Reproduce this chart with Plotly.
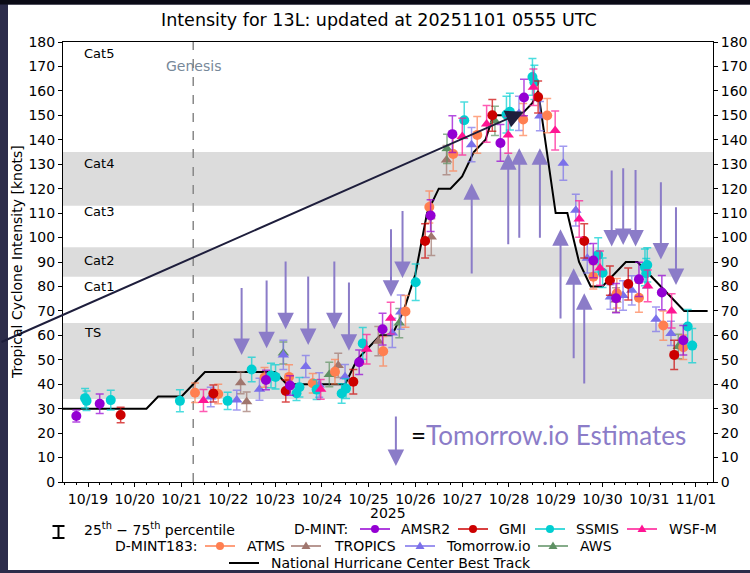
import plotly.graph_objects as go

# ---------------- data ----------------
bt_time = ["2025-10-18 06:00", "2025-10-20 06:00", "2025-10-20 12:00", "2025-10-21 00:00",
           "2025-10-21 06:00", "2025-10-21 12:00", "2025-10-23 00:00", "2025-10-23 06:00",
           "2025-10-24 12:00", "2025-10-24 18:00", "2025-10-25 00:00", "2025-10-25 06:00",
           "2025-10-25 12:00", "2025-10-25 18:00", "2025-10-26 00:00", "2025-10-26 06:00",
           "2025-10-26 12:00", "2025-10-26 18:00", "2025-10-27 00:00", "2025-10-27 06:00",
           "2025-10-27 12:00", "2025-10-27 16:00", "2025-10-28 06:00", "2025-10-28 12:00",
           "2025-10-28 15:00", "2025-10-29 00:00", "2025-10-29 06:00", "2025-10-29 12:00",
           "2025-10-29 18:00", "2025-10-30 00:00", "2025-10-30 12:00", "2025-10-30 18:00",
           "2025-10-31 00:00", "2025-10-31 06:00", "2025-10-31 12:00", "2025-10-31 18:00",
           "2025-11-01 06:00"]
bt_kt = [30, 30, 35, 35, 40, 45, 45, 40, 40, 50, 55, 60, 60, 70, 85, 110, 120, 120, 125, 135,
         140, 150, 150, 155, 160, 110, 110, 90, 80, 80, 90, 90, 85, 80, 75, 70, 70]

amsr2_time = ["2025-10-18 18:00", "2025-10-19 06:00", "2025-10-22 19:20", "2025-10-23 07:40",
              "2025-10-24 19:10", "2025-10-25 07:10", "2025-10-26 07:50", "2025-10-26 19:00",
              "2025-10-27 19:40", "2025-10-28 07:45", "2025-10-29 19:20", "2025-10-30 07:00",
              "2025-10-30 18:45", "2025-10-31 06:30", "2025-10-31 17:30"]
amsr2_kt = [27, 32, 41.7, 39.5, 49, 62.5, 109, 142.3, 138.7, 157.3, 90.6, 75.2, 82.9, 77.5, 58]
amsr2_err = [2.5, 4, 4, 4, 5, 6.5, 6.5, 7.5, 7.5, 7.5, 7, 6, 7, 7, 6]

gmi_time = ["2025-10-19 16:45", "2025-10-21 16:20", "2025-10-23 05:30", "2025-10-24 16:10",
            "2025-10-26 05:00", "2025-10-27 15:30", "2025-10-28 15:00", "2025-10-29 14:40",
            "2025-10-30 03:50", "2025-10-30 13:15", "2025-10-31 12:50"]
gmi_kt = [27.4, 36.2, 37.2, 41, 98.6, 150, 157.5, 98.6, 82.4, 81, 52]
gmi_err = [3.2, 3.5, 4.5, 5, 7, 6.5, 6.5, 7, 6, 6.5, 6]

ssmis_time = ["2025-10-18 22:30", "2025-10-18 23:15", "2025-10-19 11:40", "2025-10-20 23:10",
              "2025-10-21 23:40", "2025-10-22 12:00", "2025-10-22 21:55", "2025-10-23 00:15",
              "2025-10-23 11:00", "2025-10-23 12:30", "2025-10-23 21:20", "2025-10-24 10:10",
              "2025-10-24 12:25", "2025-10-24 21:00", "2025-10-26 00:10", "2025-10-27 01:05",
              "2025-10-27 22:45", "2025-10-28 00:30", "2025-10-28 12:05", "2025-10-28 13:05",
              "2025-10-29 21:50", "2025-10-30 00:05", "2025-10-30 21:50", "2025-10-30 22:30",
              "2025-10-30 23:00", "2025-10-31 19:45", "2025-10-31 22:05"]
ssmis_kt = [34.3, 33.2, 33.5, 33.2, 33.2, 46, 43.6, 43, 36.3, 38.8, 37.8, 36.2, 38.2, 56.7,
            81.7, 148, 150.3, 151.5, 165.7, 163.5, 92.9, 85.6, 87.8, 85.4, 88.8, 63.6, 55.8]
ssmis_err = [4, 4, 4, 4.5, 3.5, 5, 5, 5, 3, 4, 4, 4, 4, 6.5, 7.5, 7.5, 7.5, 7.5, 7.5, 7, 7,
             6, 7.5, 6, 7, 7, 7]

wsfm_time = ["2025-10-21 11:15", "2025-10-23 23:25", "2025-10-24 23:00", "2025-10-25 11:20",
             "2025-10-27 00:05", "2025-10-27 12:35", "2025-10-27 23:40", "2025-10-28 12:35",
             "2025-10-28 23:45", "2025-10-29 12:05", "2025-10-29 22:45", "2025-10-30 23:15",
             "2025-10-31 11:30"]
wsfm_kt = [33.3, 37.9, 54.3, 67, 141.3, 146.5, 142, 161.5, 143.8, 107.6, 87.5, 80.2, 70]
wsfm_err = [4.5, 4, 6, 6.5, 7.5, 7.5, 7.5, 7.5, 8, 7.5, 7, 6.5, 7]

atms_time = ["2025-10-21 06:55", "2025-10-21 18:50", "2025-10-22 18:35", "2025-10-23 07:10",
             "2025-10-23 19:20", "2025-10-24 06:45", "2025-10-25 07:30", "2025-10-25 18:55",
             "2025-10-26 07:10", "2025-10-26 19:25", "2025-10-27 07:45", "2025-10-28 07:20",
             "2025-10-28 19:40", "2025-10-29 19:20", "2025-10-30 07:25", "2025-10-30 18:45",
             "2025-10-31 07:15", "2025-10-31 17:30"]
atms_kt = [36.5, 36, 42.8, 43, 40.4, 45.1, 53.5, 69.8, 112.5, 134.2, 142, 148.3, 149.9, 84,
           77.2, 75.4, 64, 55.1]
atms_err = [4, 4, 4, 5, 4, 5, 6, 6.5, 6.5, 7, 7.5, 6.5, 7, 5, 6, 6, 6, 5]

tropics_time = ["2025-10-22 06:20", "2025-10-22 09:25", "2025-10-24 08:25", "2025-10-25 05:00",
                "2025-10-26 08:10", "2025-10-26 16:00", "2025-10-30 07:00"]
tropics_kt = [40.6, 32.8, 47.7, 57.6, 100.2, 131.7, 74.5]
tropics_err = [4.5, 4, 5, 6, 7.5, 6, 5]

tio_time = ["2025-10-21 15:00", "2025-10-22 04:20", "2025-10-22 16:00", "2025-10-23 04:15",
            "2025-10-23 15:45", "2025-10-23 22:40", "2025-10-24 11:55", "2025-10-25 12:10",
            "2025-10-25 16:30", "2025-10-27 04:50", "2025-10-28 05:10", "2025-10-28 15:55",
            "2025-10-29 03:55", "2025-10-29 10:20", "2025-10-29 16:15", "2025-10-30 04:05",
            "2025-10-30 10:35", "2025-10-30 15:05", "2025-10-31 03:30", "2025-10-31 11:10"]
tio_kt = [34.8, 33.5, 37.9, 52, 47.2, 39.7, 43.1, 61, 69.5, 138, 150.8, 149.7, 130.4, 111.2,
          91.5, 75.7, 76.3, 78.4, 66.6, 60.8]
tio_err = [4, 4, 4.5, 6, 4.5, 5, 5, 6, 7, 7, 7, 6, 7, 6.5, 6, 5, 6, 6, 5, 5]

aws_time = ["2025-10-23 04:15", "2025-10-24 03:50", "2025-10-25 15:45", "2025-10-26 16:15",
            "2025-10-27 16:50", "2025-10-31 14:55"]
aws_kt = [52.8, 44, 65, 136.3, 147.7, 55.4]
aws_err = [4.5, 5, 6, 6, 6, 5]

# Tomorrow.io estimate arrows (tail value -> head value)
est_time = ["2025-10-22 06:50", "2025-10-22 19:40", "2025-10-23 05:25", "2025-10-23 17:00",
            "2025-10-24 06:25", "2025-10-24 13:55", "2025-10-25 11:30", "2025-10-25 17:25",
            "2025-10-27 04:55", "2025-10-27 23:40", "2025-10-28 05:20", "2025-10-28 15:55",
            "2025-10-29 02:30", "2025-10-29 09:15", "2025-10-29 14:40", "2025-10-30 04:45",
            "2025-10-30 10:40", "2025-10-30 17:00", "2025-10-31 06:00", "2025-10-31 13:45"]
est_from = [80, 83, 90.8, 84.7, 90.8, 82.2, 104, 111.5, 84.7, 96.6, 99.3, 99.3, 66.3, 50,
            39.7, 128, 129, 128.3, 123.2, 113]
est_to = [52, 54.7, 62.5, 56, 62.5, 53.7, 75.8, 83.5, 122.2, 134.5, 136.5, 136.5, 103.4,
          87.4, 77.2, 96.3, 97, 96.3, 91, 80.6]

y_ticks = list(range(0, 190, 10))
cat_labels = ["Cat5", "Cat4", "Cat3", "Cat2", "Cat1", "TS"]
cat_label_kt = [175.5, 130.5, 110.5, 90.5, 80, 61]
bands = [(34, 65), (84, 96), (113, 135)]
genesis_time = "2025-10-21 06:00"
big_arrow_time = "2025-10-28 07:40"
big_arrow_kt = 151.5
x_range = ["2025-10-18 11:10", "2025-11-01 08:45"]

# ---------------- styles ----------------
FONT = "DejaVu Sans"
C_AMSR2, C_GMI, C_SSMIS, C_WSFM = "#9400D3", "#CC0000", "#00CED1", "#FF1493"
C_ATMS, C_TROP, C_TIO, C_AWS = "#FF7F50", "#A0766E", "#7B70EA", "#5E9163"
C_EST = "#8B7CC8"
C_DARK = "#1E1E3C"


def rgba(hexc, a):
    h = hexc.lstrip("#")
    return "rgba(%d,%d,%d,%.2f)" % (int(h[0:2], 16), int(h[2:4], 16), int(h[4:6], 16), a)


fig = go.Figure()

fig.add_trace(go.Scatter(x=bt_time, y=bt_kt, mode="lines",
                         line=dict(color="black", width=2), showlegend=False, hoverinfo="skip"))


def add_series(t, v, e, color, symbol, size):
    fig.add_trace(go.Scatter(
        x=t, y=v, mode="markers",
        marker=dict(color=color, symbol=symbol, size=size, line=dict(width=0)),
        error_y=dict(type="data", array=e, arrayminus=e, color=rgba(color, 0.7),
                     thickness=1.5, width=4),
        showlegend=False, hoverinfo="skip"))


add_series(tropics_time, tropics_kt, tropics_err, C_TROP, "triangle-up", 10)
add_series(aws_time, aws_kt, aws_err, C_AWS, "triangle-up", 10)
add_series(tio_time, tio_kt, tio_err, C_TIO, "triangle-up", 10)
add_series(atms_time, atms_kt, atms_err, C_ATMS, "circle", 10)
add_series(ssmis_time, ssmis_kt, ssmis_err, C_SSMIS, "circle", 10)
add_series(gmi_time, gmi_kt, gmi_err, C_GMI, "circle", 10)
add_series(amsr2_time, amsr2_kt, amsr2_err, C_AMSR2, "circle", 10)
add_series(wsfm_time, wsfm_kt, wsfm_err, C_WSFM, "triangle-up", 10)

# invisible trace to activate the right axis
fig.add_trace(go.Scatter(x=[bt_time[0]], y=[0], yaxis="y2", mode="markers",
                         marker=dict(opacity=0), showlegend=False, hoverinfo="skip"))

# ---------------- layout geometry helpers (legend / frame placement) ----------------
ML, MR, MT, MB = 63, 37, 42, 91
W, H = 750, 573
PW, PH = W - ML - MR, H - MT - MB


def px(x):
    return (x - ML) / PW


def py(y):
    return (H - MB - y) / PH


shapes = []
# white panel over dark frame
shapes.append(dict(type="rect", xref="paper", yref="paper", x0=px(8), x1=px(760),
                   y0=py(570), y1=py(4.5), fillcolor="white", line=dict(width=0), layer="below"))
shapes.append(dict(type="rect", xref="paper", yref="paper", x0=px(-10), x1=px(760),
                   y0=py(4.5), y1=py(-5), fillcolor="#0b0b16", line=dict(width=0), layer="below"))
for lo, hi in bands:
    shapes.append(dict(type="rect", xref="paper", yref="y", x0=0, x1=1, y0=lo, y1=hi,
                       fillcolor="#DCDCDC", line=dict(width=0), layer="below"))
shapes.append(dict(type="line", xref="x", yref="paper", x0=genesis_time, x1=genesis_time,
                   y0=0, y1=1, line=dict(color="#888888", width=1.5, dash="dash"), layer="below"))

annotations = []
for lab, yv in zip(cat_labels, cat_label_kt):
    annotations.append(dict(text=lab, xref="paper", yref="y", x=px(82), y=yv, xanchor="left",
                            yanchor="middle", showarrow=False, font=dict(size=13, color="black")))
annotations.append(dict(text="Genesis", xref="x", yref="y", x=genesis_time, y=170.2,
                        xanchor="center", yanchor="middle", showarrow=False,
                        font=dict(size=14, color="#778899")))

# Tomorrow.io estimate arrows
for t, a, b in zip(est_time, est_from, est_to):
    annotations.append(dict(text="", x=t, y=b, ax=t, ay=a, xref="x", yref="y", axref="x",
                            ayref="y", showarrow=True, arrowhead=2, arrowsize=1.65,
                            arrowwidth=2, arrowcolor=C_EST, standoff=0, startstandoff=0))
# legend arrow + text
annotations.append(dict(text="", x="2025-10-25 14:00", y=6.5, ax="2025-10-25 14:00", ay=27.4,
                        xref="x", yref="y", axref="x", ayref="y", showarrow=True, arrowhead=2,
                        arrowsize=1.65, arrowwidth=2, arrowcolor=C_EST, standoff=0))
annotations.append(dict(text="<span style='color:black'>=</span>Tomorrow.io Estimates",
                        x="2025-10-25 20:30", y=19.3, xref="x", yref="y", xanchor="left",
                        yanchor="middle", showarrow=False,
                        font=dict(family="Lato", size=26, color=C_EST)))

# big dark arrow
annotations.append(dict(text="", x=big_arrow_time, y=big_arrow_kt, xref="x", yref="y",
                        ax=-524, ay=231, showarrow=True, arrowhead=2, arrowsize=1.8,
                        arrowwidth=2, arrowcolor=C_DARK, standoff=0))

# title / axis titles
annotations.append(dict(text="Intensity for 13L: updated at 20251101 0555 UTC", xref="paper",
                        yref="paper", x=px(379), y=py(20), xanchor="center", yanchor="middle",
                        showarrow=False, font=dict(size=17.5, color="black")))
annotations.append(dict(text="Tropical Cyclone Intensity [knots]", xref="paper", yref="paper",
                        x=px(17), y=0.5, textangle=-90, xanchor="center", yanchor="middle",
                        showarrow=False, font=dict(size=14, color="black")))
annotations.append(dict(text="2025", xref="paper", yref="paper", x=0.5, y=py(512.5),
                        xanchor="center", yanchor="middle", showarrow=False,
                        font=dict(size=14, color="black")))

# ---------------- manual legend ----------------
def leg_text(txt, x, y):
    annotations.append(dict(text=txt, xref="paper", yref="paper", x=px(x), y=py(y),
                            xanchor="left", yanchor="middle", showarrow=False,
                            font=dict(size=14, color="black")))


def leg_item(x0, y, color, symbol):
    shapes.append(dict(type="line", xref="paper", yref="paper", x0=px(x0), x1=px(x0 + 30),
                       y0=py(y), y1=py(y), line=dict(color=color, width=1.5)))
    if symbol == "circle":
        shapes.append(dict(type="circle", xref="paper", yref="paper", xsizemode="pixel",
                           ysizemode="pixel", xanchor=px(x0 + 15), yanchor=py(y),
                           x0=-4, x1=4, y0=-4, y1=4, fillcolor=color, line=dict(width=0)))
    else:
        shapes.append(dict(type="path", xref="paper", yref="paper", xsizemode="pixel",
                           ysizemode="pixel", xanchor=px(x0 + 15), yanchor=py(y),
                           path="M-4.5,-3 L4.5,-3 L0,4.5 Z", fillcolor=color,
                           line=dict(width=0)))


R1, R2, R3 = 529, 546, 563
# errorbar symbol
shapes.append(dict(type="line", xref="paper", yref="paper", x0=px(58.5), x1=px(58.5),
                   y0=py(538), y1=py(526), line=dict(color="black", width=2)))
for yy in (526, 538):
    shapes.append(dict(type="line", xref="paper", yref="paper", x0=px(52.5), x1=px(64.5),
                       y0=py(yy), y1=py(yy), line=dict(color="black", width=2)))
leg_text("25<sup>th</sup> − 75<sup>th</sup> percentile", 82, R1)
leg_text("D-MINT:", 292, R1)
leg_item(360, R1, C_AMSR2, "circle"); leg_text("AMSR2", 399, R1)
leg_item(458, R1, C_GMI, "circle"); leg_text("GMI", 497, R1)
leg_item(535, R1, C_SSMIS, "circle"); leg_text("SSMIS", 574, R1)
leg_item(627, R1, C_WSFM, "triangle"); leg_text("WSF-M", 667, R1)

leg_text("D-MINT183:", 113, R2)
leg_item(205, R2, C_ATMS, "circle"); leg_text("ATMS", 245, R2)
leg_item(291, R2, C_TROP, "triangle"); leg_text("TROPICS", 332, R2)
leg_item(405, R2, C_TIO, "triangle"); leg_text("Tomorrow.io", 444, R2)
leg_item(538, R2, C_AWS, "triangle"); leg_text("AWS", 578, R2)

shapes.append(dict(type="line", xref="paper", yref="paper", x0=px(229), x1=px(259),
                   y0=py(R3), y1=py(R3), line=dict(color="black", width=2)))
leg_text("National Hurricane Center Best Track", 269, R3)

axis_common = dict(showline=True, linecolor="black", linewidth=1, ticks="outside",
                   ticklen=4, tickwidth=1, tickcolor="black", showgrid=False, zeroline=False,
                   automargin=False, tickfont=dict(size=14, color="black"))

fig.update_layout(
    width=W, height=H, autosize=False,
    margin=dict(l=ML, r=MR, t=MT, b=MB, pad=0, autoexpand=False),
    paper_bgcolor="#2C2C4A",
    plot_bgcolor="rgba(0,0,0,0)",
    font=dict(family=FONT, color="black"),
    showlegend=False,
    xaxis=dict(type="date", range=x_range, tickformat="%m/%d", dtick=86400000,
               tick0="2025-10-19", mirror=True,
               minor=dict(ticks="outside", ticklen=2, dtick=21600000, tickcolor="black",
                          tickwidth=1, showgrid=False),
               **axis_common),
    yaxis=dict(range=[0, 180], tickvals=y_ticks, **axis_common),
    yaxis2=dict(range=[0, 180], tickvals=y_ticks, overlaying="y", side="right",
                **axis_common),
    shapes=shapes,
    annotations=annotations,
)

fig.write_html("out.html", config={"displayModeBar": False, "responsive": False},
               post_script="document.body.style.margin='0';document.body.style.padding='0';")
